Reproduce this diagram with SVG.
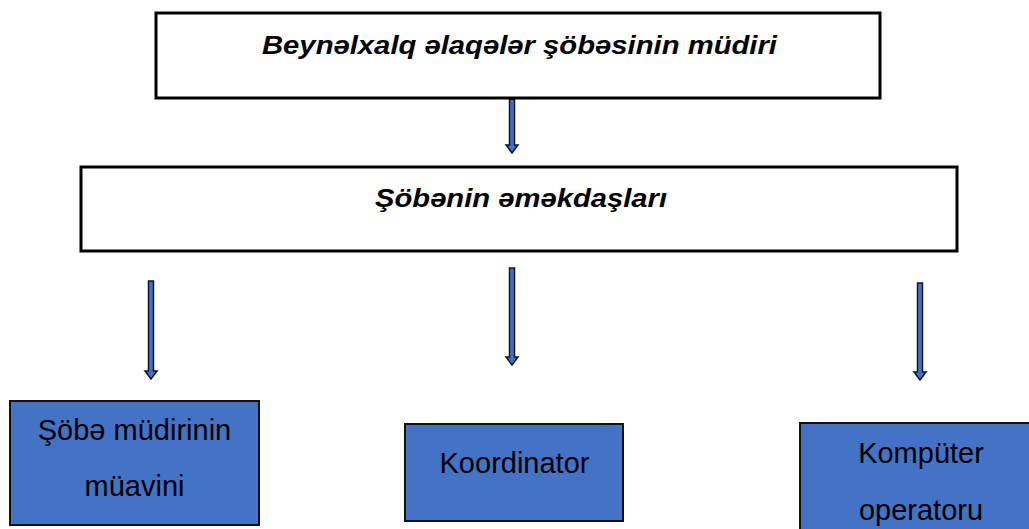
<svg xmlns="http://www.w3.org/2000/svg" width="1029" height="529" viewBox="0 0 1029 529">
<defs>
<style>
.hdr{fill:#fff;stroke:#000;stroke-width:3}
.blue{fill:#4472C4;stroke:#111;stroke-width:2}
.ht{font-family:"Liberation Sans",Arial,sans-serif;font-size:25px;font-weight:bold;font-style:italic;fill:#000;text-anchor:middle}
.bt{font-family:"Liberation Sans",Arial,sans-serif;font-size:29px;fill:#000;text-anchor:middle}
.arr{fill:#4472C4;stroke:#0d1626;stroke-width:1.5;stroke-linejoin:miter}
</style>
</defs>
<g id="connectors">
<path class="arr" d="M509.5,99 L514.5,99 L514.5,145 L518,145 L512,153 L506,145 L509.5,145 Z"/>
<path class="arr" d="M148.5,281 L153.5,281 L153.5,371 L157,371 L151,379 L145,371 L148.5,371 Z"/>
<path class="arr" d="M509.5,268 L514.5,268 L514.5,357 L518,357 L512,365 L506,357 L509.5,357 Z"/>
<path class="arr" d="M917.5,283 L922.5,283 L922.5,372 L926,372 L920,380 L914,372 L917.5,372 Z"/>
</g>
<g id="node-director">
<rect class="hdr" x="156" y="13" width="724" height="85"/>
<text class="ht" x="519.5" y="54" textLength="515" lengthAdjust="spacingAndGlyphs">Beynəlxalq əlaqələr şöbəsinin müdiri</text>
</g>
<g id="node-staff">
<rect class="hdr" x="81" y="167" width="876" height="84"/>
<text class="ht" x="521" y="207" textLength="292" lengthAdjust="spacingAndGlyphs">Şöbənin əməkdaşları</text>
</g>
<g id="node-deputy">
<rect class="blue" x="10" y="401" width="249" height="124"/>
<text class="bt" x="134.5" y="440">Şöbə müdirinin</text>
<text class="bt" x="134.5" y="496">müavini</text>
</g>
<g id="node-coordinator">
<rect class="blue" x="405" y="424" width="218" height="97"/>
<text class="bt" x="514.5" y="473">Koordinator</text>
</g>
<g id="node-operator">
<rect class="blue" x="800" y="423" width="240" height="120"/>
<text class="bt" x="921" y="463">Kompüter</text>
<text class="bt" x="921" y="520">operatoru</text>
</g>
</svg>
